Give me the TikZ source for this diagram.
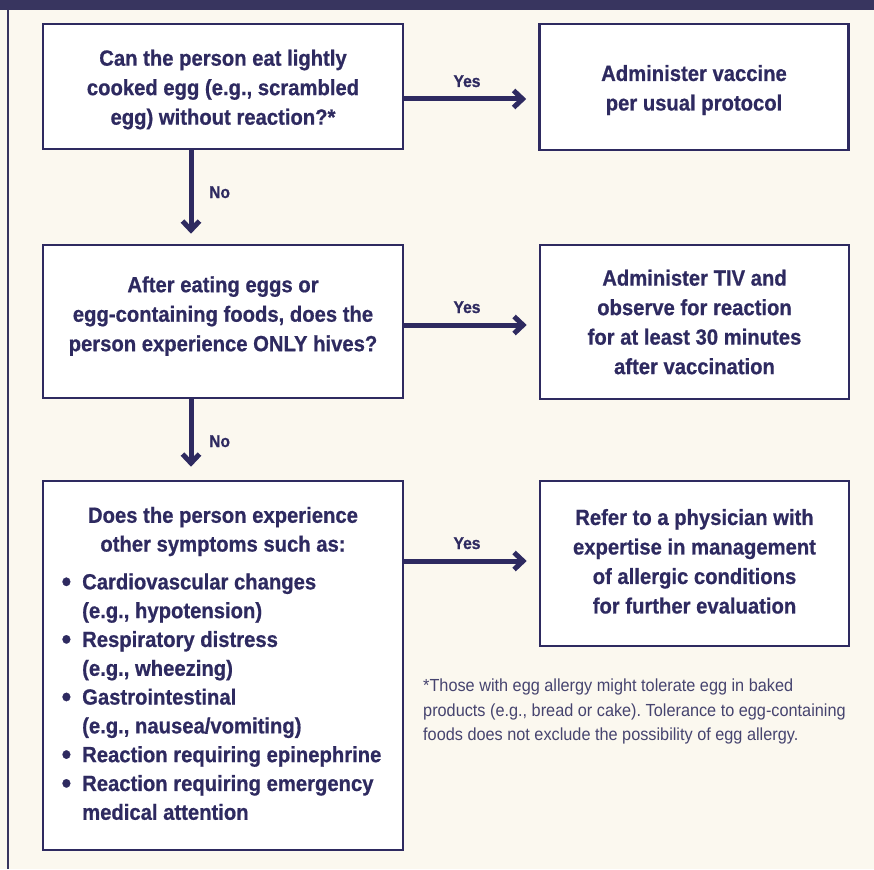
\documentclass[tikz,border=0pt]{standalone}
\usepackage{fontspec}
\usepackage{graphicx}
\setmainfont{Liberation Sans}[FakeStretch=0.92, BoldFeatures={FakeBold=0.7}]
\newfontfamily\notefont{Liberation Sans}[FakeStretch=0.93]
\usetikzlibrary{arrows.meta}
\definecolor{navy}{HTML}{2E2A60}
\definecolor{band}{HTML}{38355F}
\definecolor{cream}{HTML}{FBF8EF}
\definecolor{notegray}{HTML}{46446F}
\newcommand{\bigbul}{\raisebox{-2.2pt}{\scalebox{1.35}{\textbullet}}}
\begin{document}
\frenchspacing
\begin{tikzpicture}[x=1pt,y=-1pt,
 box/.style={draw=navy, line width=2.6pt, fill=white, text=navy,
   font=\bfseries\fontsize{22}{29.5}\selectfont, align=center, inner sep=0pt},
 arr/.style={draw=navy, line width=5pt, -{Straight Barb[length=9pt,width=17pt]}},
 lab/.style={text=navy, font=\bfseries\fontsize{17}{18}\selectfont, inner sep=0pt},
 note/.style={text=notegray, font=\notefont\fontsize{17.5}{24.5}\selectfont, inner sep=0pt, align=left}]
\fill[cream] (0,0) rectangle (874,869);
\useasboundingbox (0,0) rectangle (874,869);
\fill[band] (0,0) rectangle (874,10);
\draw[band, line width=2.5pt] (8,10) -- (8,869);

\node[box, minimum width=360pt, minimum height=125pt] (b1) at (223,86.5)
  {\mbox{}\\[-7.5pt]Can the person eat lightly\\cooked egg (e.g., scrambled\\egg) without reaction?*};
\node[box, minimum width=360pt, minimum height=153pt] (b2) at (223,321.5)
  {After eating eggs or\\egg-containing foods, does the\\person experience ONLY hives?\\[-14pt]\mbox{}};
\node[box, minimum width=360pt, minimum height=369pt] (b3) at (223,665.5)
  {\fontsize{22}{28.8}\selectfont
   \begin{tabular}{@{}l@{\hspace{11pt}}l@{\hspace{3pt}}}
   \multicolumn{2}{@{}c@{}}{Does the person experience}\\
   \multicolumn{2}{@{}c@{}}{other symptoms such as:}\\[9pt]
   \bigbul & Cardiovascular changes\\
    & (e.g., hypotension)\\
   \bigbul & Respiratory distress\\
    & (e.g., wheezing)\\
   \bigbul & Gastrointestinal\\
    & (e.g., nausea/vomiting)\\
   \bigbul & Reaction requiring epinephrine\\
   \bigbul & Reaction requiring emergency\\
    & medical attention
   \end{tabular}};

\node[box, minimum width=309pt, minimum height=126pt] (r1) at (694,87)
  {\mbox{}\\[-7.5pt]Administer vaccine\\per usual protocol};
\node[box, minimum width=309pt, minimum height=154pt] (r2) at (694.5,322)
  {Administer TIV and\\observe for reaction\\for at least 30 minutes\\after vaccination};
\node[box, minimum width=309pt, minimum height=165pt] (r3) at (694.5,563.5)
  {Refer to a physician with\\expertise in management\\of allergic conditions\\for further evaluation\\[-25pt]\mbox{}};

\coordinate (ax) at (191,0);
\coordinate (ya) at (0,99);
\coordinate (yb) at (0,325);
\coordinate (yc) at (0,561);

\draw[arr, shorten >=12pt] (b1.east |- ya) -- (r1.west |- ya);
\draw[arr, shorten >=12pt] (b2.east |- yb) -- (r2.west |- yb);
\draw[arr, shorten >=12pt] (b3.east |- yc) -- (r3.west |- yc);
\draw[arr, shorten >=10pt] (b1.south -| ax) -- (b2.north -| ax);
\draw[arr, shorten >=13pt] (b2.south -| ax) -- (b3.north -| ax);

\node[lab, anchor=base] (y1) at (467,87) {Yes};
\node[lab, anchor=base] (y2) at (467,313) {Yes};
\node[lab, anchor=base] (y3) at (467,549) {Yes};
\node[lab, anchor=base west] (n1) at (209,198) {No};
\node[lab, anchor=base west] (n2) at (209,447) {No};

\node[note, anchor=north west] (fn) at (423,679)
  {*Those with egg allergy might tolerate egg in baked\\products (e.g., bread or cake). Tolerance to egg-containing\\foods does not exclude the possibility of egg allergy.};
\end{tikzpicture}
\end{document}
